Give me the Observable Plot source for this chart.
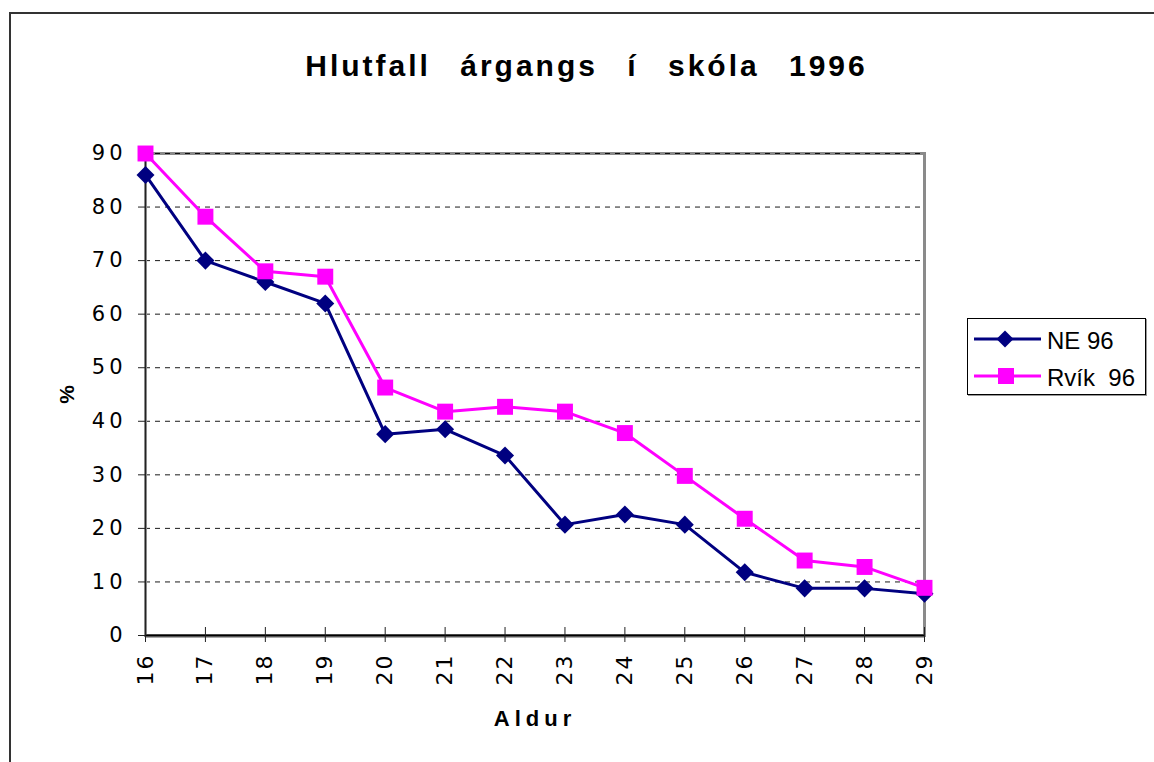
<!DOCTYPE html>
<html><head><meta charset="utf-8">
<script src="https://cdn.jsdelivr.net/npm/d3@7"></script>
<script src="https://cdn.jsdelivr.net/npm/@observablehq/plot@0.6"></script>
<style>
html,body{margin:0;padding:0;background:#fff;overflow:hidden}
#wrap{position:relative;width:1154px;height:762px;font-family:"Liberation Sans",Arial,sans-serif;overflow:hidden}
#frame{position:absolute;left:9px;top:12px;width:1200px;height:800px;border-left:2px solid #333;border-top:2px solid #333;pointer-events:none}
#title{height:100px;position:relative}
#title span{position:absolute;left:20px;width:1133px;top:49px;text-align:center;font-weight:bold;font-size:30px;letter-spacing:3px;word-spacing:18px;white-space:pre;color:#000}
#chart{position:relative}
#legend{position:absolute;left:967px;top:318px;width:177px;height:75px;border:1px solid #000;box-shadow:1px 1px 0 #999;background:#fff}
#legend svg{position:absolute;left:0;top:0}
</style></head>
<body><div id="wrap"><div id="frame"></div><div id="title"><span>Hlutfall árgangs í skóla 1996</span></div><div id="chart"></div><div id="legend"></div></div>
<script>
const ages = [16,17,18,19,20,21,22,23,24,25,26,27,28,29];
const ne96 = [86,70,66,62,37.6,38.5,33.6,20.7,22.6,20.7,11.8,8.8,8.8,7.8];
const rvik96 = [90,78.2,68,67,46.3,41.8,42.7,41.8,37.8,29.8,21.8,14,12.8,8.9];
const seriesNames = ["NE 96","Rvík  96"];
const seriesColors = ["#000080","#FF00FF"];
const yTicks = [0,10,20,30,40,50,60,70,80,90];
const xLabel = "Aldur";
const yLabel = "%";

const neRows = ages.map((a,i)=>({age:a, v:ne96[i], s:seriesNames[0]}));
const rvRows = ages.map((a,i)=>({age:a, v:rvik96[i], s:seriesNames[1]}));
const font = '"Liberation Sans",Arial,sans-serif';
const tickFont = '"DejaVu Sans","Liberation Sans",Arial,sans-serif';

const chart = Plot.plot({
  width:1154, height:662,
  marginLeft:145, marginRight:230, marginTop:53, marginBottom:127,
  style:{fontFamily:font, background:"transparent", overflow:"visible", color:"#000"},
  x:{domain:[16,29], ticks:ages},
  y:{domain:[0,90], ticks:yTicks},
  color:{domain:seriesNames, range:seriesColors},
  marks:[
    Plot.frame({stroke:"#8a8a8a", strokeWidth:3}),
    Plot.gridY(yTicks.slice(1), {stroke:"#000", strokeOpacity:0.9, strokeDasharray:"5,5", strokeWidth:1}),
    Plot.ruleX([16], {stroke:"#8a8a8a", strokeWidth:3}),
    Plot.ruleX([16], {stroke:"#222", strokeWidth:1}),
    Plot.ruleY([0], {stroke:"#aaa", strokeWidth:3, dy:1}),
    Plot.ruleY([0], {stroke:"#000", strokeWidth:2}),
    Plot.axisY({ticks:yTicks, tickSize:7, tickPadding:12, fontSize:21, label:yLabel, labelAnchor:"center", labelOffset:86, labelArrow:false, stroke:"#222"}),
    Plot.axisX({ticks:ages, tickSize:15, text:null, dy:-8, label:null, stroke:"#222"}),
    Plot.axisX({ticks:ages, tickSize:0, tickPadding:18, tickRotate:-90, fontSize:22, label:xLabel, labelAnchor:"center", labelOffset:90, labelArrow:false}),
    Plot.line(neRows, {x:"age", y:"v", stroke:"s", strokeWidth:3}),
    Plot.dot(neRows, {x:"age", y:"v", fill:"s", symbol:"square", r:7.2, rotate:45}),
    Plot.line(rvRows, {x:"age", y:"v", stroke:"s", strokeWidth:3}),
    Plot.dot(rvRows, {x:"age", y:"v", fill:"s", symbol:"square", r:9})
  ]
});
const sel = d3.select(chart);
sel.selectAll('g[aria-label="y-axis tick label"] text').style("letter-spacing","4px").style("font-size","21px").style("font-family",tickFont);
sel.selectAll('g[aria-label="x-axis tick label"] text').style("letter-spacing","2px").style("font-size","22px").style("font-family",tickFont);
sel.selectAll('g[aria-label="y-axis label"] text').style("font-weight","bold").style("font-size","21px");
sel.selectAll('g[aria-label="x-axis label"] text').style("font-weight","bold").style("font-size","22px").style("letter-spacing","5px");
document.getElementById("chart").appendChild(chart);

// legend
const lg = d3.select("#legend").append("svg").attr("width",177).attr("height",75)
  .style("font-family", font);
seriesNames.forEach((name,i)=>{
  const cy = i===0 ? 20 : 57;
  const g = lg.append("g");
  g.append("line").attr("x1",6).attr("x2",73).attr("y1",cy).attr("y2",cy)
    .attr("stroke",seriesColors[i]).attr("stroke-width",3);
  if(i===0){
    g.append("rect").attr("x",-6).attr("y",-6).attr("width",12).attr("height",12)
      .attr("fill",seriesColors[i]).attr("transform",`translate(37,${cy}) rotate(45)`);
  } else {
    g.append("rect").attr("x",30).attr("y",cy-8).attr("width",16).attr("height",16).attr("fill",seriesColors[i]);
  }
  g.append("text").attr("x",79).attr("y",cy+10).attr("font-size",24).attr("fill","#000")
    .style("white-space","pre").attr("xml:space","preserve").text(name);
});
</script>
</body></html>
